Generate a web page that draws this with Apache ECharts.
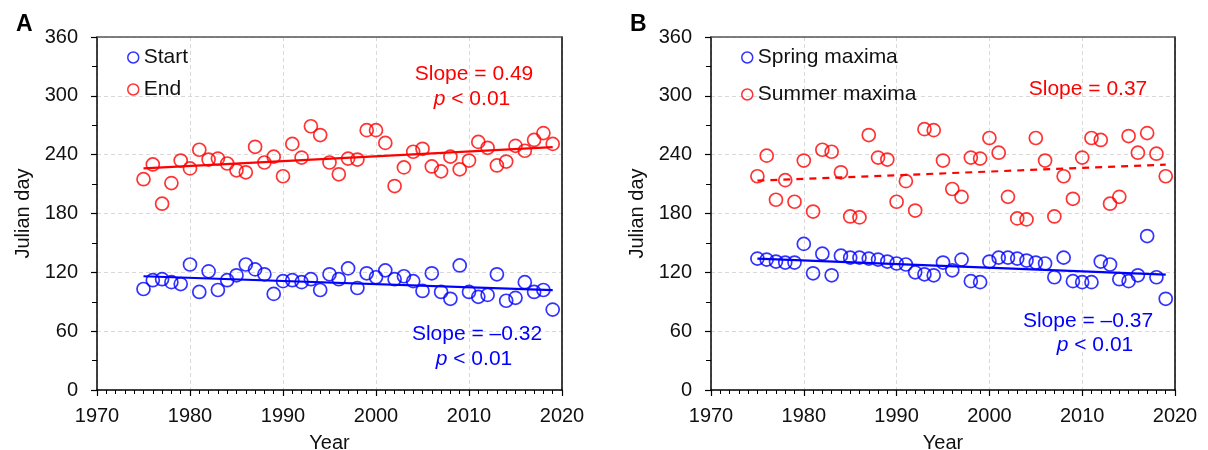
<!DOCTYPE html>
<html>
<head>
<meta charset="utf-8">
<script src="https://cdn.jsdelivr.net/npm/echarts@6/dist/echarts.min.js"></script>
<style>
  html, body { margin: 0; padding: 0; background: #fff; }
  #chart { width: 1208px; height: 450px; }
</style>
</head>
<body>
<div id="chart"></div>
<script>
// Years of record
const years = [1975,1976,1977,1978,1979,1980,1981,1982,1983,1984,1985,1986,1987,1988,1989,1990,
  1991,1992,1993,1994,1995,1996,1997,1998,1999,2000,2001,2002,2003,2004,2005,2006,2007,2008,2009,
  2010,2011,2012,2013,2014,2015,2016,2017,2018,2019];

// Panel A: start and end day of the season
const startDay = [103,112,113,110,108,128,100,121,102,112,117,128,123,118,98,111,
  112,110,113,102,118,113,124,104,119,115,122,113,116,111,101,119,100,93,127,
  100,95,97,118,91,94,110,100,102,82];
const endDay = [215,230,190,211,234,226,245,235,236,231,224,222,248,232,238,218,
  251,237,269,260,232,220,236,235,265,265,252,208,227,243,246,228,223,238,225,
  234,253,247,229,233,249,244,255,262,251];

// Panel B: day of spring and summer maxima
const springMax = [134,133,131,130,130,149,119,139,117,137,135,135,134,133,131,129,
  128,120,118,117,130,122,133,111,110,131,135,135,134,132,130,129,115,135,111,
  110,110,131,128,113,111,117,157,115,93];
const summerMax = [218,239,194,214,192,234,182,245,243,222,177,176,260,237,235,192,
  213,183,266,265,234,205,197,237,236,257,242,197,175,174,257,234,177,218,195,
  237,257,255,190,197,259,242,262,241,218];

// Linear trends: fitted value at first and last year
const trendYears = [1975, 2019];
const startTrend = [116, 101.9];
const endTrend = [226, 247.6];
const springTrend = [134, 117.7];
const summerTrend = [213.5, 229.8];

// Axis ticks
const xTicks = { min: 1970, max: 2020, step: 10 };
const yTicks = { min: 0, max: 360, step: 60 };

const FONT = "'Liberation Sans', Arial, sans-serif";
const BLUE = '#0000ff';
const RED = '#ff0000';
const GRID_LINE = { show: true, lineStyle: { color: '#d9d9d9', type: [4, 3], width: 1 } };

const pairs = (xs, ys) => xs.map((x, i) => [x, ys[i]]);

function xAxisFor(gridIndex) {
  return {
    gridIndex, type: 'value', min: xTicks.min, max: xTicks.max, interval: xTicks.step,
    name: 'Year', nameLocation: 'middle', nameGap: 43,
    nameTextStyle: { fontFamily: FONT, fontSize: 20, color: '#111' },
    axisLine: { show: true, onZero: false, lineStyle: { color: '#000', width: 1.5 } },
    axisTick: { show: true, inside: false, length: 6, lineStyle: { color: '#000', width: 1.2 } },
    minorTick: { show: true, splitNumber: 10, length: 4, lineStyle: { color: '#000', width: 1 } },
    axisLabel: { fontFamily: FONT, fontSize: 20, color: '#111', margin: 16, formatter: v => String(v) },
    splitLine: GRID_LINE
  };
}
function yAxisFor(gridIndex) {
  return {
    gridIndex, type: 'value', min: yTicks.min, max: yTicks.max, interval: yTicks.step,
    name: 'Julian day', nameLocation: 'middle', nameGap: 64, nameRotate: 90,
    nameTextStyle: { fontFamily: FONT, fontSize: 20, color: '#111' },
    axisLine: { show: true, onZero: false, lineStyle: { color: '#000', width: 1.5 } },
    axisTick: { show: true, inside: false, length: 6, lineStyle: { color: '#000', width: 1.2 } },
    minorTick: { show: true, splitNumber: 2, length: 5, lineStyle: { color: '#000', width: 1 } },
    axisLabel: { fontFamily: FONT, fontSize: 20, color: '#111', margin: 19 },
    splitLine: GRID_LINE
  };
}
// Frame edges (top and right) drawn as bare axis lines so they sit above the grid lines
function frameX(gridIndex) {
  return {
    gridIndex, type: 'value', position: 'top', min: xTicks.min, max: xTicks.max,
    axisLine: { show: true, onZero: false, lineStyle: { color: '#555', width: 1.5 } },
    axisTick: { show: false }, axisLabel: { show: false }, splitLine: { show: false }
  };
}
function frameY(gridIndex) {
  return {
    gridIndex, type: 'value', position: 'right', min: yTicks.min, max: yTicks.max,
    axisLine: { show: true, onZero: false, lineStyle: { color: '#000', width: 1.5 } },
    axisTick: { show: false }, axisLabel: { show: false }, splitLine: { show: false }
  };
}

function scatter(name, idx, xs, ys, color) {
  return {
    name, type: 'scatter', xAxisIndex: idx, yAxisIndex: idx,
    data: pairs(xs, ys), symbol: 'circle', symbolSize: 13,
    itemStyle: { color: 'rgba(255,255,255,0)', borderColor: color, borderWidth: 1.7 },
    emphasis: { disabled: true }, z: 3
  };
}
function trend(idx, vals, color, dashed) {
  return {
    type: 'line', xAxisIndex: idx, yAxisIndex: idx, data: pairs(trendYears, vals),
    showSymbol: false, symbol: 'none', silent: true,
    lineStyle: { color, width: 2.2, type: dashed ? [7, 6] : 'solid' }, z: 4
  };
}

// One centred line of annotation text; {i|...} marks italic runs
function note(x, y, text, color) {
  return {
    type: 'text', x, y, z: 10,
    style: {
      text, fill: color, font: '21px ' + FONT, align: 'center', verticalAlign: 'middle',
      rich: { i: { fontStyle: 'italic', fontSize: 21, fontFamily: FONT, fill: color } }
    }
  };
}

const legendCommon = {
  orient: 'vertical', icon: 'circle', itemWidth: 11, itemHeight: 11, padding: 0,
  textStyle: { fontFamily: FONT, fontSize: 21, color: '#111' },
  selectedMode: false
};
const openIcon = color => ({ color: 'transparent', borderColor: color, borderWidth: 1.5 });

const chart = echarts.init(document.getElementById('chart'));
chart.setOption({
  animation: false,
  backgroundColor: '#fff',
  grid: [
    { left: 97, right: 1208 - 562, top: 37, height: 353, containLabel: false, outerBoundsMode: 'none' },
    { left: 711, right: 1208 - 1175, top: 37, height: 353, containLabel: false, outerBoundsMode: 'none' }
  ],
  xAxis: [xAxisFor(0), xAxisFor(1), frameX(0), frameX(1)],
  yAxis: [yAxisFor(0), yAxisFor(1), frameY(0), frameY(1)],
  legend: [
    Object.assign({}, legendCommon, { left: 127, top: 47, itemGap: 11, data: [
      { name: 'Start', itemStyle: openIcon(BLUE) },
      { name: 'End', itemStyle: openIcon(RED) }] }),
    Object.assign({}, legendCommon, { left: 741, top: 47, itemGap: 16, data: [
      { name: 'Spring maxima', itemStyle: openIcon(BLUE) },
      { name: 'Summer maxima', itemStyle: openIcon(RED) }] })
  ],
  series: [
    scatter('Start', 0, years, startDay, BLUE),
    scatter('End', 0, years, endDay, RED),
    trend(0, startTrend, BLUE, false),
    trend(0, endTrend, RED, false),
    scatter('Spring maxima', 1, years, springMax, BLUE),
    scatter('Summer maxima', 1, years, summerMax, RED),
    trend(1, springTrend, BLUE, false),
    trend(1, summerTrend, RED, true)
  ],
  graphic: [
    { type: 'text', left: 16, top: 13, style: { text: 'A', font: 'bold 23px ' + FONT, fill: '#000' } },
    { type: 'text', left: 630, top: 13, style: { text: 'B', font: 'bold 23px ' + FONT, fill: '#000' } },
    note(474, 74, 'Slope = 0.49', RED),
    note(472, 99, '{i|p} < 0.01', RED),
    note(477, 334, 'Slope = \u20130.32', BLUE),
    note(474, 359, '{i|p} < 0.01', BLUE),
    note(1088, 89, 'Slope = 0.37', RED),
    note(1088, 321, 'Slope = \u20130.37', BLUE),
    note(1095, 345, '{i|p} < 0.01', BLUE)
  ]
});
</script>
</body>
</html>
